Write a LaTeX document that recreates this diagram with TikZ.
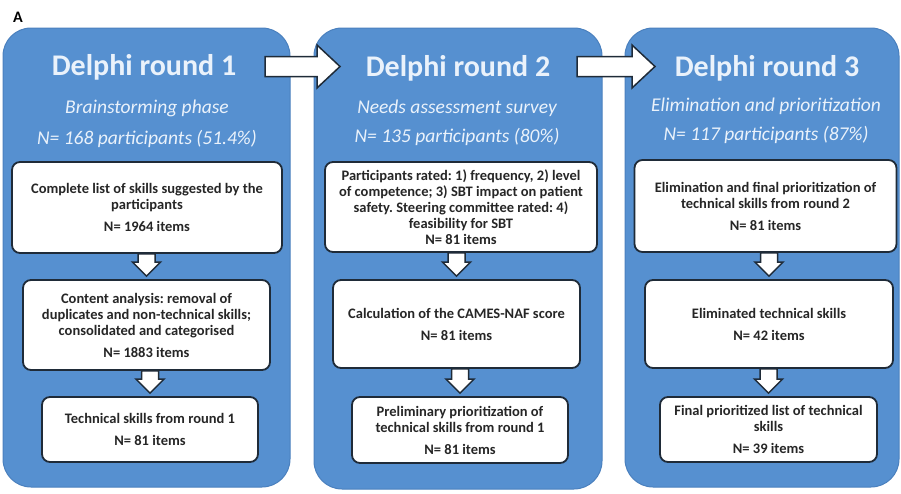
\documentclass[tikz,border=0pt]{standalone}
\usepackage{fontspec}
\setmainfont{Carlito}
\usetikzlibrary{calc}
\definecolor{panelblue}{HTML}{5690D0}
\definecolor{paneledge}{HTML}{4A80BE}
\definecolor{navy}{HTML}{1F2B38}
\definecolor{headtxt}{HTML}{EAF2FB}
\definecolor{boxtxt}{HTML}{262626}
\tikzset{
  panel/.style={fill=panelblue, draw=paneledge, line width=1pt, rounded corners=28pt, inner sep=0pt},
  box/.style={fill=white, draw=navy, line width=1.8pt, rounded corners=8pt, align=center, inner sep=0pt,
    text=boxtxt, font=\bfseries\fontsize{14.5}{16}\selectfont},
  titletxt/.style={text=headtxt, font=\bfseries\fontsize{30}{32}\selectfont, inner sep=0pt, anchor=base},
  subtxt/.style={text=headtxt, font=\itshape\fontsize{19.5}{22}\selectfont, inner sep=0pt, anchor=base},
  blockarrow/.style={fill=white, draw=navy, line width=1.5pt, line join=miter},
  panellabel/.style={font=\bfseries\fontsize{16}{18}\selectfont, inner sep=0pt}
}
\newcommand\vblockarrow[2]{%
  \draw[blockarrow] let \p1=(#1.south), \p2=(#2.north) in
    (\x2-8.5pt,\y1) -- (\x2+8.5pt,\y1) -- (\x2+8.5pt,\y2+17pt) -- (\x2+14pt,\y2+17pt)
    -- (\x2,\y2+3pt) -- (\x2-14pt,\y2+17pt) -- (\x2-8.5pt,\y2+17pt) -- cycle;}
\newcommand\hblockarrow[2]{%
  \draw[blockarrow] let \p1=(#1), \p2=(#2) in
    (\x1,\y1+10pt) -- (\x2-23pt,\y1+10pt) -- (\x2-23pt,\y1+21.5pt) -- (\x2,\y1)
    -- (\x2-23pt,\y1-21.5pt) -- (\x2-23pt,\y1-10pt) -- (\x1,\y1-10pt) -- cycle;}
\frenchspacing
\begin{document}
\begin{tikzpicture}[x=1pt, y=-1pt]
\useasboundingbox[fill=white] (0,0) rectangle (901,493);

\node[panellabel] (lab) at (18,17) {A};

% panels
\node[panel, minimum width=287pt, minimum height=459pt] (p1) at (146.5,257.5) {};
\node[panel, minimum width=288pt, minimum height=461pt] (p2) at (458,258.5) {};
\node[panel, minimum width=274pt, minimum height=459pt] (p3) at (762,257.5) {};

% headers
\node[titletxt] (t1) at (144,75) {Delphi round 1};
\node[subtxt] (s1) at (147,113) {Brainstorming phase};
\node[subtxt] (n1) at (147,144) {N= 168 participants (51.4\%)};

\node[titletxt] (t2) at (458,76) {Delphi round 2};
\node[subtxt] (s2) at (457,113) {Needs assessment survey};
\node[subtxt] (n2) at (457,142) {N= 135 participants (80\%)};

\node[titletxt] (t3) at (767,76) {Delphi round 3};
\node[subtxt] (s3) at (766,111) {Elimination and prioritization};
\node[subtxt] (n3) at (766,140) {N= 117 participants (87\%)};

% round 1 boxes
\node[box, minimum width=270pt, minimum height=91pt] (b11) at (147,207.5)
  {Complete list of skills suggested by the\\ participants\\[6pt] N= 1964 items};
\node[box, minimum width=247pt, minimum height=90pt] (b12) at (146.5,325)
  {Content analysis: removal of\\ duplicates and non-technical skills;\\ consolidated and categorised\\[6pt] N= 1883 items};
\node[box, minimum width=216pt, minimum height=65pt] (b13) at (150,429.5)
  {Technical skills from round 1\\[6pt] N= 81 items};

% round 2 boxes
\node[box, minimum width=272pt, minimum height=90pt] (b21) at (461,207)
  {Participants rated: 1) frequency, 2) level\\ of competence; 3) SBT impact on patient\\ safety. Steering committee rated: 4)\\ feasibility for SBT\\ N= 81 items};
\node[box, minimum width=247pt, minimum height=88pt] (b22) at (456.5,324)
  {Calculation of the CAMES-NAF score\\[6pt] N= 81 items};
\node[box, minimum width=216pt, minimum height=66pt] (b23) at (460,430)
  {Preliminary prioritization of\\ technical skills from round 1\\[6pt] N= 81 items};

% round 3 boxes
\node[box, minimum width=262pt, minimum height=92pt] (b31) at (765.5,206)
  {Elimination and final prioritization of\\ technical skills from round 2\\[6pt] N= 81 items};
\node[box, minimum width=248pt, minimum height=88pt] (b32) at (769,324)
  {Eliminated technical skills\\[6pt] N= 42 items};
\node[box, minimum width=217pt, minimum height=65pt] (b33) at (768.5,429.5)
  {Final prioritized list of technical\\ skills\\[6pt] N= 39 items};

% vertical block arrows
\vblockarrow{b11}{b12}
\vblockarrow{b12}{b13}
\vblockarrow{b21}{b22}
\vblockarrow{b22}{b23}
\vblockarrow{b31}{b32}
\vblockarrow{b32}{b33}

% horizontal block arrows
\coordinate (h1s) at (265,66.5);
\coordinate (h1e) at (340,66.5);
\coordinate (h2s) at (577,66.5);
\coordinate (h2e) at (655,66.5);
\hblockarrow{h1s}{h1e}
\hblockarrow{h2s}{h2e}
\end{tikzpicture}
\end{document}
